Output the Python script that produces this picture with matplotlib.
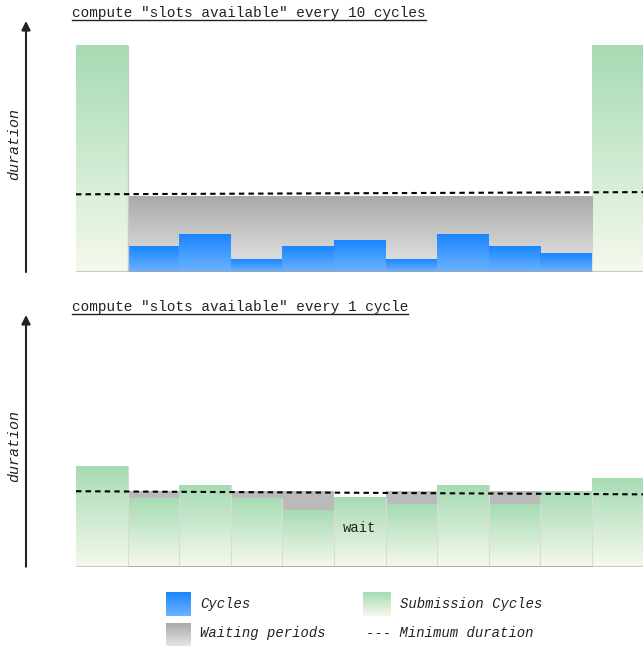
import numpy as np
import matplotlib
matplotlib.use('Agg')
import matplotlib.pyplot as plt
from matplotlib.colors import LinearSegmentedColormap

# ---------------- data (duration units) ----------------
top_submission = [36, 36]                      # first and last column
top_cycles = [4, 6, 2, 4, 5, 2, 6, 4, 3]       # blue cycles between submissions
top_wait_level = 12                            # waiting period level
top_min_duration = [12.35, 12.7]               # dashed line, left / right end

bottom_cycles = [16, 11, 13, 11, 9, 11, 10, 13, 10, 12, 14]
bottom_waits = [0, 1, 0, 1, 3, 0, 2, 0, 2, 0, 0]
bottom_min_duration = [12.0, 11.5]

titles = ['compute "slots available" every 10 cycles',
          'compute "slots available" every 1 cycle']
axis_label = 'duration'
wait_label = 'wait'
legend_labels = ['Cycles', 'Submission Cycles', 'Waiting periods', '--- Minimum duration']

# ---------------- style ----------------
MONO = 'Liberation Mono'
TXT = '#222222'
GREEN = ('#a6dbb3', '#f5f9ec')
GRAY = ('#a9a9a9', '#e8e8e8')
BLUE = ('#1a86ff', '#6cb3ff')
WAIT_FLAT = '#bababa'

W, H = 643, 646
fig = plt.figure(figsize=(W / 100, H / 100), dpi=100)

UNIT = 6.29     # px per duration unit
COL = 51.6      # px per column
LEFT = 76
YMAX = 40
XMAX = (W - LEFT) / COL


def grad(ax, x0, x1, y0, y1, colors, z):
    cmap = LinearSegmentedColormap.from_list('g', [colors[1], colors[0]])
    g = np.linspace(0, 1, 256).reshape(-1, 1)
    ax.imshow(g, extent=[x0, x1, y0, y1], origin='lower', aspect='auto',
              cmap=cmap, interpolation='bilinear', zorder=z)


def panel(baseline_px):
    ax = fig.add_axes([LEFT / W, (H - baseline_px) / H, (W - LEFT) / W, YMAX * UNIT / H])
    ax.set_axis_off()
    return ax


# ---------------- top panel ----------------
ax1 = panel(272)
n_top = len(top_cycles) + 2
grad(ax1, 0, 1, 0, top_submission[0], GREEN, 1)
grad(ax1, n_top - 1, n_top, 0, top_submission[1], GREEN, 1)
grad(ax1, 1, n_top - 1, 0, top_wait_level, GRAY, 1)
for i, v in enumerate(top_cycles):
    grad(ax1, i + 1, i + 2, 0, v, BLUE, 2)
ax1.plot([1, 1], [0, top_submission[0]], color='#c8c8c8', lw=1, zorder=3)
ax1.plot([0, XMAX], [0, 0], color='#c4c4c4', lw=2, zorder=3, solid_capstyle='butt')
ax1.plot([1, n_top - 1], [0, 0], color='#a0a0a0', lw=2, zorder=3, solid_capstyle='butt')
ax1.plot([0, XMAX], top_min_duration, color='black', lw=1.5,
         linestyle=(0, (2.6, 2.0)), zorder=4)
ax1.set_xlim(0, XMAX)
ax1.set_ylim(0, YMAX)

# ---------------- bottom panel ----------------
ax2 = panel(566.7)
for i, (c, w) in enumerate(zip(bottom_cycles, bottom_waits)):
    grad(ax2, i, i + 1, 0, c, GREEN, 1)
    if w > 0:
        ax2.bar(i + 0.5, w, bottom=c, width=1, color=WAIT_FLAT, lw=0, zorder=1)
    ax2.plot([i + 1, i + 1], [0, c], color='#dadada', lw=0.8, zorder=2)
ax2.plot([0, XMAX], [0, 0], color='#c4c4c4', lw=2, zorder=3, solid_capstyle='butt')
ax2.plot([1, 10], [0, 0], color='#a8a8a8', lw=2, zorder=3, solid_capstyle='butt')
ax2.plot([0, XMAX], bottom_min_duration, color='black', lw=1.5,
         linestyle=(0, (2.6, 2.0)), zorder=4)
ax2.text(5.5, 6.1, wait_label, family=MONO, fontsize=10, color=TXT,
         ha='center', va='center', zorder=5)
ax2.set_xlim(0, XMAX)
ax2.set_ylim(0, YMAX)

# ---------------- overlay: arrows, titles, legend ----------------
ov = fig.add_axes([0, 0, 1, 1], zorder=10)
ov.set_axis_off()
ov.patch.set_alpha(0)

for (y_base, y_top) in [(272, 21), (566.7, 315)]:
    ov.annotate('', xy=(26, y_top), xytext=(26, y_base),
                arrowprops=dict(arrowstyle='-|>', lw=1.5, color=TXT,
                                mutation_scale=13, shrinkA=0, shrinkB=0))

for y in (144, 446):
    ov.text(14, y, axis_label, family=MONO, style='italic', fontsize=10.8,
            color=TXT, rotation=90, ha='center', va='center')

title_texts = []
for (t, yb) in zip(titles, (17.5, 311.5)):
    title_texts.append(ov.text(72, yb, t, family=MONO, fontsize=10.4, color=TXT,
                               ha='left', va='baseline'))

# legend swatches
grad(ov, 166, 191, 616, 592, BLUE, 1)
grad(ov, 166, 191, 647, 623, GRAY, 1)
grad(ov, 363, 391, 616, 592, GREEN, 1)
ov.text(200, 604, legend_labels[0], family=MONO, style='italic', fontsize=10,
        color=TXT, ha='left', va='center')
ov.text(400, 604, legend_labels[1], family=MONO, style='italic', fontsize=10,
        color=TXT, ha='left', va='center')
ov.text(200, 633, legend_labels[2], family=MONO, style='italic', fontsize=10,
        color=TXT, ha='left', va='center')
ov.text(366, 633, legend_labels[3], family=MONO, style='italic', fontsize=10,
        color=TXT, ha='left', va='center')

ov.set_xlim(0, W)
ov.set_ylim(H, 0)

# underline titles
fig.canvas.draw()
inv = ov.transData.inverted()
for t, yu in zip(title_texts, (20, 314.3)):
    bb = t.get_window_extent()
    (x0, _), (x1, _) = inv.transform([(bb.x0, bb.y0), (bb.x1, bb.y0)])
    ov.plot([x0, x1], [yu, yu], color=TXT, lw=1.0)
ov.set_xlim(0, W)
ov.set_ylim(H, 0)

fig.savefig('out.png', dpi=100)
